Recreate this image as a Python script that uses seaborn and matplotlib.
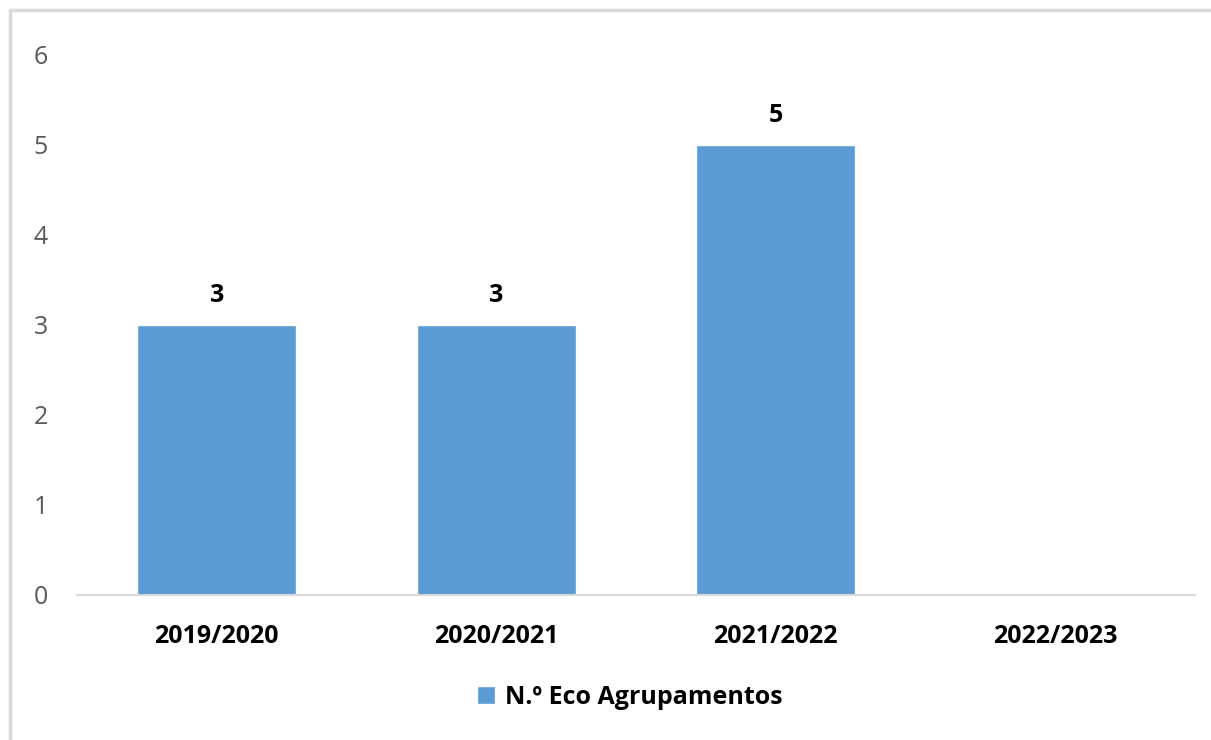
"""Bar chart: number of Eco Agrupamentos per school year."""

import matplotlib
matplotlib.use("Agg")
import matplotlib.pyplot as plt
from matplotlib.lines import Line2D
import pandas as pd
import seaborn as sns

# ---------------------------------------------------------------------------
# Data
# ---------------------------------------------------------------------------
years = ["2019/2020", "2020/2021", "2021/2022", "2022/2023"]
counts = [3, 3, 5, 0]
series_label = "N.º Eco Agrupamentos"
y_ticks = [0, 1, 2, 3, 4, 5, 6]

BAR_COLOR = "#5B9BD5"
GRID_GRAY = "#D9D9D9"
TICK_GRAY = "#595959"

# ---------------------------------------------------------------------------
# Aesthetics
# ---------------------------------------------------------------------------
sns.set_style("white")
plt.rcParams["font.family"] = ["Open Sans", "DejaVu Sans"]

df = pd.DataFrame({"year": years, "count": counts})

fig = plt.figure(figsize=(12.11, 7.40), dpi=100)
ax = fig.add_axes([0.0636, 0.196, 0.9232, 0.7297])

sns.barplot(data=df, x="year", y="count", order=years, color=BAR_COLOR,
            width=0.57, saturation=1, label=series_label, ax=ax)

ax.set_ylim(0, 6)
ax.set_xlim(-0.5, len(years) - 0.5)
ax.set_yticks(y_ticks)
ax.set_xlabel("")
ax.set_ylabel("")
ax.tick_params(axis="y", length=0, pad=21, labelsize=18, labelcolor=TICK_GRAY)
ax.tick_params(axis="x", length=0, pad=21, labelsize=18, labelcolor="black")
for lbl in ax.get_xticklabels():
    lbl.set_fontweight("bold")

for side in ["top", "right", "left"]:
    ax.spines[side].set_visible(False)
ax.spines["bottom"].set_color(GRID_GRAY)
ax.spines["bottom"].set_linewidth(1.5)

# value labels above bars (empty bars get no label)
labels = [f"{v:g}" if v > 0 else "" for v in counts]
ax.bar_label(ax.containers[0], labels=labels, padding=12,
             fontsize=18, fontweight="bold", color="black")

ax.legend(loc="center", bbox_to_anchor=(0.52, 0.058),
          bbox_transform=fig.transFigure, frameon=False,
          prop={"size": 18, "weight": "bold"}, labelcolor="black",
          handlelength=0.7, handleheight=0.7, handletextpad=0.4)

# outer chart frame (top and left edges visible)
fig.add_artist(Line2D([10 / 1211, 10 / 1211], [0, 1 - 10 / 740],
                      transform=fig.transFigure, color=GRID_GRAY, lw=2.5))
fig.add_artist(Line2D([10 / 1211, 1], [1 - 10 / 740, 1 - 10 / 740],
                      transform=fig.transFigure, color=GRID_GRAY, lw=2.5))

fig.savefig("out.png", dpi=100)
